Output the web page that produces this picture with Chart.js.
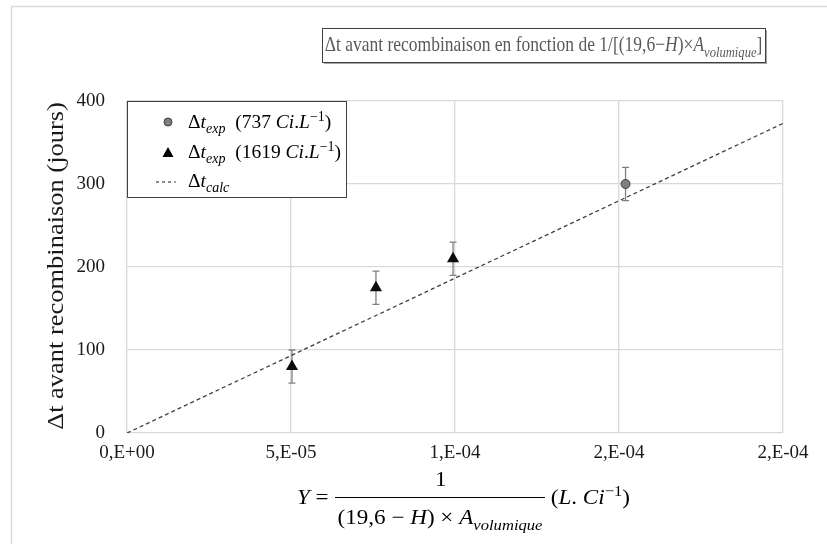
<!DOCTYPE html>
<html>
<head>
<meta charset="utf-8">
<script src="https://cdn.jsdelivr.net/npm/chart.js@4"></script>
<style>
html,body{margin:0;padding:0;background:#fff;}
#wrap{width:827px;height:544px;position:relative;}
canvas{display:block;}
</style>
</head>
<body>
<div id="wrap"><canvas id="c" width="827" height="544"></canvas></div>
<script>
// ---- data ----
const circleX = [1.52e-4];
const circleY = [300];
const circleErr = [20];

const triX = [5.03e-5, 7.59e-5, 9.94e-5];
const triY = [80, 175, 210];
const triErr = [20, 20, 20];

const calcX = [0, 2e-4];
const calcY = [0, 373];

const xTickLabels = ["0,E+00", "5,E-05", "1,E-04", "2,E-04", "2,E-04"];
const yTickValues = [0, 100, 200, 300, 400];

const titleText = "Δt avant recombinaison en fonction de 1/[(19,6−H)×A_volumique]";
const yTitle = "Δt avant recombinaison (jours)";
const legendLabels = ["Δt_exp (737 Ci.L^−1)", "Δt_exp (1619 Ci.L^−1)", "Δt_calc"];

// ---- helpers ----
const SERIF = '"Liberation Serif", "Times New Roman", serif';
function toXY(xs, ys){ return xs.map((x,i)=>({x:x, y:ys[i]})); }

function segFont(st, size){
  let fs = size, dy = 0, it = false;
  if (st === 'i') it = true;
  if (st === 'sub'){ fs = size*0.72; dy = size*0.28; it = true; }
  if (st === 'sup'){ fs = size*0.72; dy = -size*0.38; }
  return { font: (it ? 'italic ' : '') + fs + 'px ' + SERIF, dy: dy };
}
// draws rich text with its left baseline at (x,y), optionally stretched by sx, sy
function drawRich(ctx, segs, x, y, size, color, sx, sy){
  sx = sx || 1; sy = sy || 1;
  let cx = 0;
  ctx.save();
  ctx.translate(x, y);
  ctx.scale(sx, sy);
  ctx.fillStyle = color;
  ctx.textBaseline = 'alphabetic';
  ctx.textAlign = 'left';
  for (const [t, st] of segs){
    const f = segFont(st, size);
    ctx.font = f.font;
    ctx.fillText(t, cx, f.dy);
    cx += ctx.measureText(t).width;
  }
  ctx.restore();
  return cx * sx;
}
function richWidth(ctx, segs, size, sx){
  sx = sx || 1;
  let w = 0;
  ctx.save();
  for (const [t, st] of segs){
    ctx.font = segFont(st, size).font;
    w += ctx.measureText(t).width;
  }
  ctx.restore();
  return w * sx;
}

const errorBars = {
  id: 'errorBars',
  beforeDatasetsDraw(chart){
    const ctx = chart.ctx, xs = chart.scales.x, ys = chart.scales.y;
    ctx.save();
    ctx.strokeStyle = '#808080';
    ctx.lineWidth = 1.3;
    const sets = [[circleX, circleY, circleErr], [triX, triY, triErr]];
    for (const [X, Y, E] of sets){
      X.forEach((xv, i) => {
        const px = xs.getPixelForValue(xv);
        const pt = ys.getPixelForValue(Y[i] + E[i]);
        const pb = ys.getPixelForValue(Y[i] - E[i]);
        ctx.beginPath();
        ctx.moveTo(px, pt); ctx.lineTo(px, pb);
        ctx.moveTo(px-3.5, pt); ctx.lineTo(px+3.5, pt);
        ctx.moveTo(px-3.5, pb); ctx.lineTo(px+3.5, pb);
        ctx.stroke();
      });
    }
    ctx.restore();
  }
};

const decor = {
  id: 'decor',
  beforeDraw(chart){
    const ctx = chart.ctx;
    ctx.save();
    ctx.strokeStyle = '#d9d9d9';
    ctx.lineWidth = 1.5;
    ctx.beginPath();
    ctx.moveTo(11.5, 544); ctx.lineTo(11.5, 6.5); ctx.lineTo(827, 6.5);
    ctx.stroke();
    ctx.restore();
  },
  afterDraw(chart){
    const ctx = chart.ctx;
    const ca = chart.chartArea;
    // --- y axis title ---
    ctx.save();
    ctx.translate(57, (ca.top + ca.bottom)/2 - 1);
    ctx.rotate(-Math.PI/2);
    ctx.scale(1.15, 1);
    ctx.font = '23px ' + SERIF;
    ctx.fillStyle = '#1a1a1a';
    ctx.textAlign = 'center';
    ctx.textBaseline = 'middle';
    ctx.fillText(yTitle, 0, 0);
    ctx.restore();

    // --- title box ---
    const tSegs = [["Δt avant recombinaison en fonction de 1/[(19,6−", 'n'], ["H", 'i'], [")×", 'n'], ["A", 'i'], ["volumique", 'sub'], ["]", 'n']];
    const tSize = 17.5;
    const tw = richWidth(ctx, tSegs, tSize);
    const bx = 322, by = 28, bw = 443, bh = 34;
    ctx.save();
    ctx.fillStyle = '#a6a6a6';
    ctx.fillRect(bx+2, by+2, bw, bh);
    ctx.fillStyle = '#fff';
    ctx.fillRect(bx, by, bw, bh);
    ctx.strokeStyle = '#404040';
    ctx.lineWidth = 1;
    ctx.strokeRect(bx+0.5, by+0.5, bw, bh);
    ctx.restore();
    drawRich(ctx, tSegs, bx + (bw - tw)/2, by + 23, tSize, '#595959', 1, 1.2);

    // --- legend ---
    const lx = 127, ly = 101, lw = 219, lh = 96;
    ctx.save();
    ctx.fillStyle = '#fff';
    ctx.fillRect(lx, ly, lw, lh);
    ctx.strokeStyle = '#404040';
    ctx.lineWidth = 1;
    ctx.strokeRect(lx+0.5, ly+0.5, lw, lh);
    ctx.fillStyle = '#7f7f7f'; ctx.strokeStyle = '#404040';
    ctx.beginPath(); ctx.arc(168, 122, 4, 0, Math.PI*2); ctx.fill(); ctx.stroke();
    ctx.fillStyle = '#000';
    ctx.beginPath(); ctx.moveTo(168, 147); ctx.lineTo(173.5, 157); ctx.lineTo(162.5, 157); ctx.closePath(); ctx.fill();
    ctx.strokeStyle = '#404040'; ctx.lineWidth = 1.2; ctx.setLineDash([3,3]);
    ctx.beginPath(); ctx.moveTo(156, 182); ctx.lineTo(176, 182); ctx.stroke();
    ctx.restore();
    const ls = 19.5;
    drawRich(ctx, [["Δ", 'n'], ["t", 'i'], ["exp", 'sub'], ["  (737 ", 'n'], ["Ci", 'i'], [".", 'n'], ["L", 'i'], ["−1", 'sup'], [")", 'n']], 188, 128, ls, '#000');
    drawRich(ctx, [["Δ", 'n'], ["t", 'i'], ["exp", 'sub'], ["  (1619 ", 'n'], ["Ci", 'i'], [".", 'n'], ["L", 'i'], ["−1", 'sup'], [")", 'n']], 188, 158, ls, '#000');
    drawRich(ctx, [["Δ", 'n'], ["t", 'i'], ["calc", 'sub']], 188, 187, ls, '#000');

    // --- x axis formula ---
    const fs = 21, fsx = 1.1;
    drawRich(ctx, [["Y", 'i'], [" = ", 'n']], 297, 504, fs, '#000', fsx, 1);
    const den = [["(19,6 − ", 'n'], ["H", 'i'], [") × ", 'n'], ["A", 'i'], ["volumique", 'sub']];
    const dw = richWidth(ctx, den, fs, fsx);
    const fx0 = 335, fx1 = 545;
    drawRich(ctx, den, (fx0+fx1)/2 - dw/2, 524, fs, '#000', fsx, 1);
    drawRich(ctx, [["1", 'n']], (fx0+fx1)/2 - 5, 486, fs, '#000', fsx, 1);
    ctx.save();
    ctx.strokeStyle = '#000'; ctx.lineWidth = 1;
    ctx.beginPath(); ctx.moveTo(fx0, 497.5); ctx.lineTo(fx1, 497.5); ctx.stroke();
    ctx.restore();
    drawRich(ctx, [[" (", 'n'], ["L", 'i'], [". ", 'n'], ["Ci", 'i'], ["−1", 'sup'], [")", 'n']], 545, 504, fs, '#000', fsx, 1);
  }
};

new Chart(document.getElementById('c'), {
  type: 'scatter',
  data: {
    datasets: [
      { label: legendLabels[0], data: toXY(circleX, circleY), pointStyle: 'circle', pointRadius: 4.5,
        backgroundColor: '#7f7f7f', borderColor: '#404040', borderWidth: 1, showLine: false, order: 1 },
      { label: legendLabels[1], data: toXY(triX, triY), pointStyle: 'triangle', pointRadius: 7,
        backgroundColor: '#0d0d0d', borderColor: '#0d0d0d', borderWidth: 0, showLine: false, order: 1 },
      { label: legendLabels[2], data: toXY(calcX, calcY), showLine: true, pointRadius: 0,
        borderColor: '#404040', borderWidth: 1.3, borderDash: [4,3], fill: false, order: 2 }
    ]
  },
  options: {
    responsive: false,
    animation: false,
    devicePixelRatio: 1,
    layout: { padding: { left: 0, top: 101, right: 44, bottom: 0 } },
    plugins: { legend: { display: false }, title: { display: false }, tooltip: { enabled: false } },
    scales: {
      x: {
        type: 'linear', min: 0, max: 2e-4,
        afterBuildTicks(scale){ scale.ticks = [0, 5e-5, 1e-4, 1.5e-4, 2e-4].map(v => ({value: v})); },
        afterFit(scale){ scale.height = 111; },
        grid: { color: '#d9d9d9', lineWidth: 1.3, drawTicks: false },
        border: { display: false },
        ticks: { padding: 9, color: '#1a1a1a', font: { family: SERIF, size: 19 },
          maxRotation: 0, autoSkip: false,
          callback: (v, i) => xTickLabels[i] }
      },
      y: {
        type: 'linear', min: 0, max: 400,
        afterBuildTicks(scale){ scale.ticks = yTickValues.map(v => ({value: v})); },
        afterFit(scale){ scale.width = 127; },
        grid: { color: '#d9d9d9', lineWidth: 1.3, drawTicks: false },
        border: { display: false },
        ticks: { padding: 22, color: '#1a1a1a', font: { family: SERIF, size: 19 } },
        title: { display: false, text: yTitle }
      }
    }
  },
  plugins: [errorBars, decor]
});
</script>
</body>
</html>
